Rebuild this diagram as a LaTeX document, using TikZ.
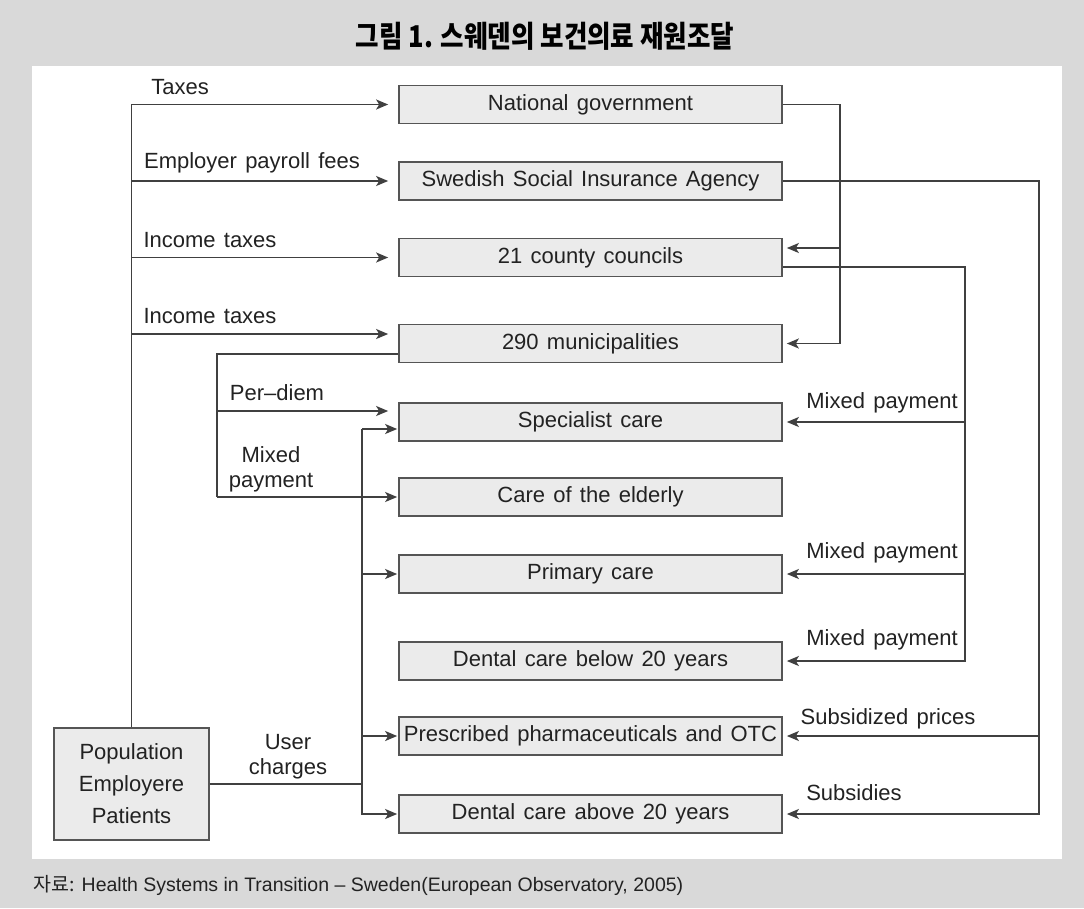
\documentclass[tikz,border=0pt]{standalone}
\usepackage{fontspec}
\setmainfont{Liberation Sans}[WordSpace=1.35]
\newfontfamily\srcfont{Liberation Sans}
\newfontfamily\krtitle{Noto Sans CJK KR}[FakeStretch=0.85]
\newfontfamily\krfont{Noto Sans CJK KR}
\usetikzlibrary{arrows.meta,calc}

\definecolor{bggray}{HTML}{D9D9D9}
\definecolor{boxfill}{HTML}{EBEBEB}
\definecolor{boxline}{HTML}{555555}
\definecolor{wire}{HTML}{404040}
\definecolor{ink}{HTML}{222222}

\tikzset{
  lbl/.style={font=\fontsize{22}{25}\selectfont, text=ink, inner sep=0pt, align=center},
  box/.style={draw=boxline, fill=boxfill, line width=1.7pt, minimum width=383pt,
              minimum height=38pt, inner sep=0pt, font=\fontsize{22}{26}\selectfont, text=ink},
  popbox/.style={draw=boxline, fill=boxfill, line width=1.7pt, minimum width=155pt,
              minimum height=112pt, inner sep=0pt, align=center,
              font=\fontsize{22}{32}\selectfont, text=ink},
  wireline/.style={draw=wire, line width=1.7pt},
  flow/.style={wireline, -{Stealth[length=12pt,width=10pt,inset=3pt]}},
  flowfar/.style={flow, shorten >=10pt},
  flownear/.style={flow, shorten >=1pt},
  flowright/.style={flow, shorten >=4pt},
}

\begin{document}
\begin{tikzpicture}[x=1pt,y=-1pt]
  % frame: grey page with a white panel
  \fill[bggray] (0,0) rectangle (1084,908);
  \fill[white] (32,66) rectangle (1062,859);
  \useasboundingbox (0,0) rectangle (1084,908);

  % heading and source line
  \node[font=\fontsize{30}{32}\selectfont, text=black] (title) at (545,36)
    {\krtitle\bfseries 그림 1. 스웨덴의 보건의료 재원조달};
  \node[anchor=west, font=\fontsize{19.5}{21}\selectfont\srcfont, text=ink, inner sep=0pt] (source) at (33,885)
    {{\krfont 자료:} Health Systems in Transition – Sweden(European Observatory, 2005)};

  % funding bodies and services
  \node[box] (ng)     at (590.5,104.5) {National government};
  \node[box] (ssia)   at (590.5,181)   {Swedish Social Insurance Agency};
  \node[box] (cc)     at (590.5,257.5) {21 county councils};
  \node[box] (muni)   at (590.5,343.5) {290 municipalities};
  \node[box] (spec)   at (590.5,422)   {Specialist care};
  \node[box] (eld)    at (590.5,497)   {Care of the elderly};
  \node[box] (prim)   at (590.5,574)   {Primary care};
  \node[box] (dlow)   at (590.5,661)   {Dental care below 20 years};
  \node[box] (pharma) at (590.5,736)   {Prescribed pharmaceuticals and OTC};
  \node[box] (dhigh)  at (590.5,814)   {Dental care above 20 years};

  \node[popbox] (pop) at (131.5,784) {Population\\Employere\\Patients};

  % junction points
  \coordinate (munin)  at ($(muni.west)+(0,-9.5)$);
  \coordinate (munout) at ($(muni.west)+(0,10.5)$);
  \coordinate (specin) at ($(spec.west)+(0,-11)$);
  \coordinate (specuc) at ($(spec.west)+(0,7)$);
  \coordinate (ccin)   at ($(cc.east)+(0,-9.5)$);
  \coordinate (ccout)  at ($(cc.east)+(0,9.5)$);
  \coordinate (mtrunk) at (217,497);
  \coordinate (uctrunk) at (362,784);
  \coordinate (ngv)    at (840,0);
  \coordinate (ccv)    at (965,0);
  \coordinate (ssiav)  at (1039,0);

  % population: taxes and fees
  \draw[flowfar] (pop.north) |- (ng.west);
  \draw[flowfar] (pop.north |- ssia.west) -- (ssia.west);
  \draw[flowfar] (pop.north |- cc.west) -- (cc.west);
  \draw[flowfar] (pop.north |- munin) -- (munin);

  % municipalities to specialist care and elderly care
  \draw[wireline] (munout) -| (mtrunk);
  \draw[flowfar] (mtrunk |- specin) -- (specin);
  \draw[flownear] (mtrunk) -- (eld.west);

  % user charges
  \draw[wireline] (pop.east |- uctrunk) -- (uctrunk);
  \draw[flownear] (uctrunk |- specuc) |- (dhigh.west);
  \draw[flownear] (uctrunk |- specuc) -- (specuc);
  \draw[flownear] (uctrunk |- prim.west) -- (prim.west);
  \draw[flownear] (uctrunk |- pharma.west) -- (pharma.west);

  % national government to councils and municipalities
  \draw[flowright] (ng.east) -| (ngv |- muni.east) -- (muni.east);
  \draw[flowright] (ngv |- ccin) -- (ccin);

  % social insurance agency
  \draw[flowright] (ssia.east) -| (ssiav |- dhigh.east) -- (dhigh.east);
  \draw[flowright] (ssiav |- pharma.east) -- (pharma.east);

  % county councils to care providers
  \draw[flowright] (ccout) -| (ccv |- dlow.east) -- (dlow.east);
  \draw[flowright] (ccv |- spec.east) -- (spec.east);
  \draw[flowright] (ccv |- prim.east) -- (prim.east);

  % flow labels
  \node[lbl] (ltax)   at (180,87)  {Taxes};
  \node[lbl] (lpay)   at (252,163) {Employer payroll fees};
  \node[lbl] (linc1)  at (210,240) {Income taxes};
  \node[lbl] (linc2)  at (210,316) {Income taxes};
  \node[lbl] (lpd)    at (277,393) {Per–diem};
  \node[lbl] (lmix)   at (271,469) {Mixed\\payment};
  \node[lbl] (luc)    at (288,757) {User\\charges};
  \node[lbl] (lmix1)  at (882,403) {Mixed payment};
  \node[lbl] (lmix2)  at (882,553) {Mixed payment};
  \node[lbl] (lmix3)  at (882,640) {Mixed payment};
  \node[lbl] (lsubp)  at (888,719) {Subsidized prices};
  \node[lbl] (lsubs)  at (854,793) {Subsidies};
\end{tikzpicture}
\end{document}
